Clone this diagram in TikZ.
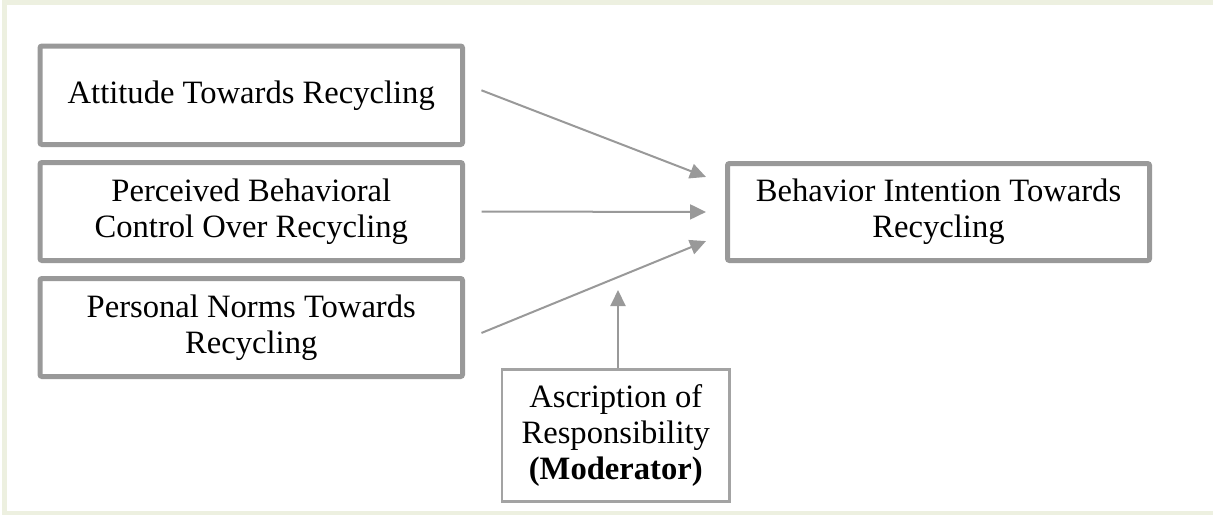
\documentclass[tikz,border=0pt]{standalone}
\usepackage{fontspec}
\setmainfont{Liberation Serif}
\usetikzlibrary{arrows.meta}
\definecolor{boxgray}{HTML}{999999}
\definecolor{framegreen}{HTML}{EDF0E0}
\tikzstyle{factor}=[draw=boxgray,line width=2.5pt,rounded corners=1pt,align=center,inner sep=0pt,font=\fontsize{16.3}{18}\selectfont]
\tikzstyle{moderator}=[draw=boxgray!90,line width=1.25pt,align=center,inner sep=0pt,font=\fontsize{16.3}{18}\selectfont]
\tikzstyle{link}=[draw=boxgray,line width=1pt,-{Triangle[length=8pt,width=7.5pt]}]

\begin{document}
\begin{tikzpicture}[x=0.5pt,y=-0.5pt]
\useasboundingbox (0,0) rectangle (1213,514);
\draw[framegreen,line width=2.5pt] (4.5,2.5) rectangle (1215,513);
\node[factor,minimum width=211.25pt,minimum height=49.25pt] (att) at (251.25,95.25) {Attitude Towards Recycling};
\node[factor,minimum width=211.25pt,minimum height=49pt] (pbc) at (251.25,211.5) {Perceived Behavioral\\Control Over Recycling};
\node[factor,minimum width=211.25pt,minimum height=49pt] (pn) at (251.25,327.5) {Personal Norms Towards\\Recycling};
\node[factor,minimum width=211pt,minimum height=48.5pt] (bi) at (938.5,212) {Behavior Intention Towards\\Recycling};
\node[moderator,minimum width=113.75pt,minimum height=66pt] (ar) at (615.75,435.5) {Ascription of\\Responsibility\\\textbf{(Moderator)}};
\coordinate (mod) at (618,290);
\draw[link,shorten <=8.8pt,shorten >=10.2pt] ([yshift=5.65pt]att.east) -- ([yshift=13.85pt]bi.west);
\draw[link,shorten <=8.3pt,shorten >=9.5pt] (pbc.east) -- (bi.west);
\draw[link,shorten <=8.9pt,shorten >=10.25pt] ([yshift=-6.1pt]pn.east) -- ([yshift=-10.65pt]bi.west);
\draw[link] (ar.north -| mod) -- (mod);
\end{tikzpicture}
\end{document}
